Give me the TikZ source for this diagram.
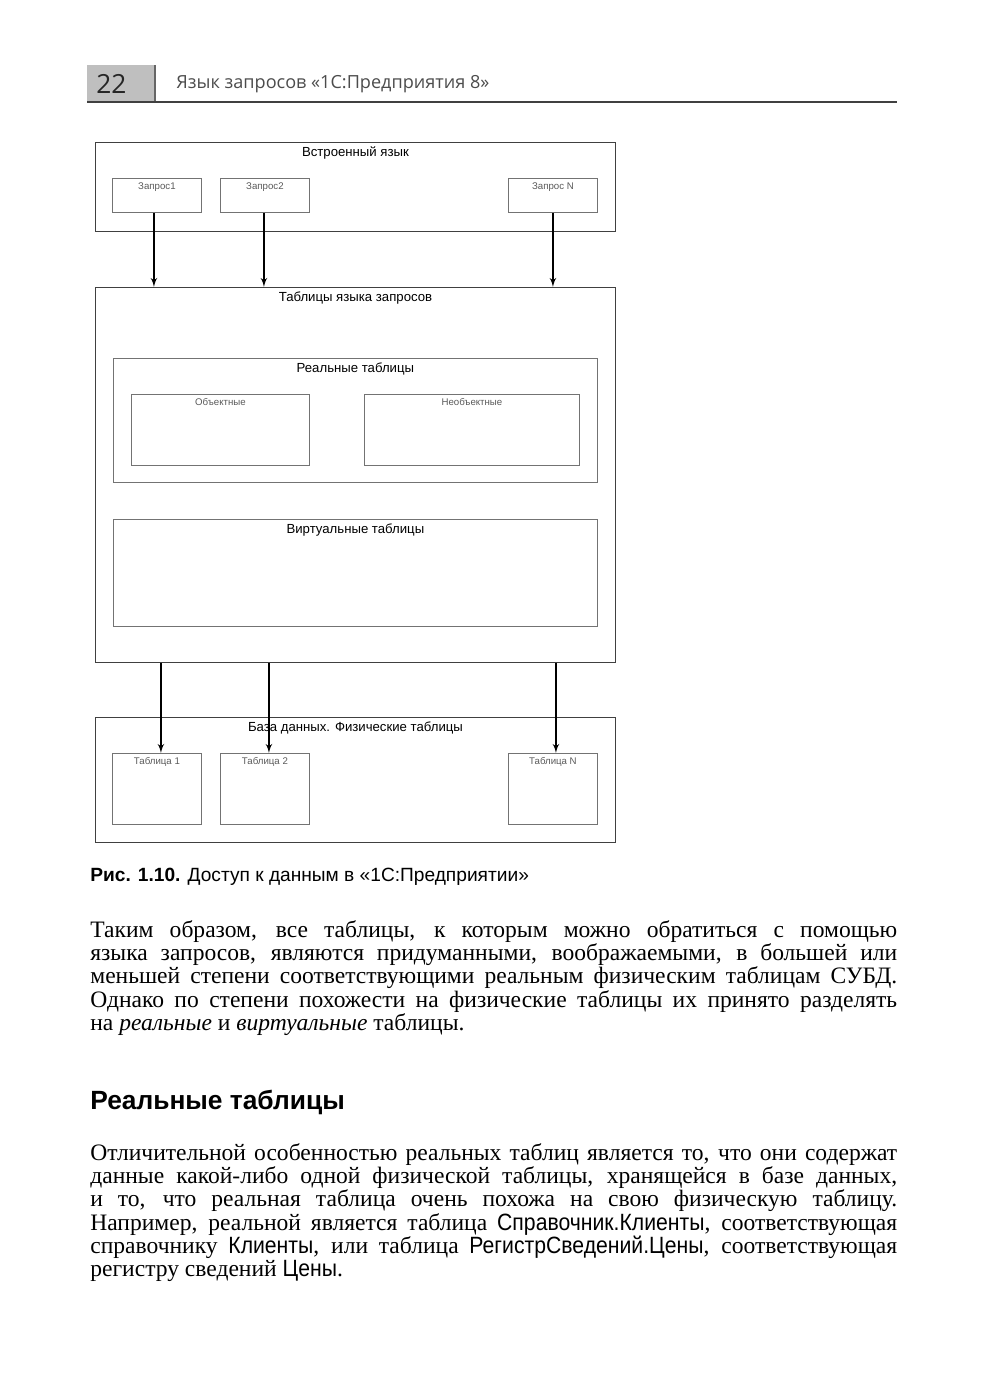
\documentclass[tikz,border=0pt]{standalone}
\usepackage{fontspec}
\setmainfont{Liberation Serif}
\setsansfont{Liberation Sans}
\newfontfamily\hdfont{Open Sans}
\newfontfamily\narsf[FakeStretch=0.9]{Liberation Sans}
\usetikzlibrary{arrows}
\tikzstyle{frame}=[draw=black!75, line width=0.6pt, anchor=north west, inner sep=0pt]
\tikzstyle{sub}=[draw=black!55, line width=0.5pt, anchor=north west, inner sep=0pt]
\tikzstyle{ttl}=[anchor=north, inner sep=2.5pt, font=\sffamily\fontsize{7.5}{8}\selectfont]
\tikzstyle{sml}=[anchor=north, inner sep=2.5pt, text=black!65, font=\sffamily\fontsize{5.5}{6}\selectfont]
\tikzstyle{txt}=[anchor=base west, inner sep=0pt, font=\fontsize{13.4}{13.2}\selectfont]
\newcommand\jline[1]{\makebox[16.14cm][s]{#1}}
\newcommand\cfg[1]{{\narsf #1}}

\begin{document}
\begin{tikzpicture}[x=0.02cm,y=-0.02cm,>=latex']
    \useasboundingbox (0,0) rectangle (1000,1379);
    % running head
    \node [anchor=north west, fill=black!25, minimum width=1.34cm, minimum height=0.74cm] (pg) at (87,65) {};
    \draw [black!60, line width=1.2pt] (pg.north east) -- (pg.south east);
    \node [anchor=base west, inner sep=0pt, text=black!85, font=\hdfont\fontsize{15}{15}\selectfont] (num) at (96,93) {22};
    \node [anchor=base west, inner sep=0pt, text=black!70, font=\hdfont\fontsize{10.3}{11}\selectfont] (head) at (176,88) {Язык запросов «1С:Предприятия 8»};
    \draw [black!75, line width=0.6pt] (87,102) -- (897,102);
    % diagram
    \node [frame, minimum width=10.4cm, minimum height=1.78cm, label={[ttl]north:Встроенный язык}] (lang) at (95,142) {};
    \node [sub, minimum width=1.78cm, minimum height=0.68cm, label={[sml]north:Запрос1}] (q1) at (112,178) {};
    \node [sub, minimum width=1.78cm, minimum height=0.68cm, label={[sml]north:Запрос2}] (q2) at (220,178) {};
    \node [sub, minimum width=1.78cm, minimum height=0.68cm, label={[sml]north:Запрос N}] (qn) at (508,178) {};
    \node [frame, minimum width=10.4cm, minimum height=7.5cm, label={[ttl]north:Таблицы языка запросов}] (tq) at (95,287) {};
    \node [sub, minimum width=9.68cm, minimum height=2.48cm, label={[ttl]north:Реальные таблицы}] (rt) at (113,358) {};
    \node [sub, minimum width=3.56cm, minimum height=1.42cm, label={[sml]north:Объектные}] (ob) at (131,394) {};
    \node [sub, minimum width=4.3cm, minimum height=1.42cm, label={[sml]north:Необъектные}] (nob) at (364,394) {};
    \node [sub, minimum width=9.68cm, minimum height=2.14cm, label={[ttl]north:Виртуальные таблицы}] (vt) at (113,519) {};
    \node [frame, minimum width=10.4cm, minimum height=2.5cm, label={[ttl]north:База данных. Физические таблицы}] (db) at (95,717) {};
    \node [sub, minimum width=1.78cm, minimum height=1.42cm, label={[sml]north:Таблица 1}] (t1) at (112,753) {};
    \node [sub, minimum width=1.78cm, minimum height=1.42cm, label={[sml]north:Таблица 2}] (t2) at (220,753) {};
    \node [sub, minimum width=1.78cm, minimum height=1.42cm, label={[sml]north:Таблица N}] (tn) at (508,753) {};
    \foreach \n/\s in {q1/-3,q2/-1,qn/0}
        \draw [->, line width=0.8pt] ([xshift=\s*0.02cm]\n.south) -- ([xshift=\s*0.02cm]\n.south |- tq.north);
    \foreach \n/\s in {t1/4,t2/4,tn/3}
        \draw [->, line width=0.8pt] ([xshift=\s*0.02cm]\n.north |- tq.south) -- ([xshift=\s*0.02cm]\n.north);
    % caption
    \node [anchor=base west, inner sep=0pt, font=\sffamily\fontsize{10.9}{11}\selectfont] (cap) at (90,881) {\textbf{Рис. 1.10.} Доступ к данным в «1С:Предприятии»};
    % text
    \node [txt] (p1a) at (90,937) {\jline{Таким образом, все таблицы, к которым можно обратиться с помощью}};
    \node [txt] (p1b) at (90,960.3) {\jline{языка запросов, являются придуманными, воображаемыми, в большей или}};
    \node [txt] (p1c) at (90,983.6) {\jline{меньшей степени соответствующими реальным физическим таблицам СУБД.}};
    \node [txt] (p1d) at (90,1007) {\jline{Однако по степени похожести на физические таблицы их принято разделять}};
    \node [txt] (p1e) at (90,1030.3) {на \textit{реальные} и \textit{виртуальные} таблицы.};
    \node [anchor=base west, inner sep=0pt, font=\sffamily\bfseries\fontsize{15}{15}\selectfont] (sec) at (90,1109) {Реальные таблицы};
    \node [txt] (p2a) at (90,1160) {\jline{Отличительной особенностью реальных таблиц является то, что они содержат}};
    \node [txt] (p2b) at (90,1183.3) {\jline{данные какой-либо одной физической таблицы, хранящейся в базе данных,}};
    \node [txt] (p2c) at (90,1206.6) {\jline{и то, что реальная таблица очень похожа на свою физическую таблицу.}};
    \node [txt] (p2d) at (90,1230) {\jline{Например, реальной является таблица \cfg{Справочник.Клиенты}, соответствующая}};
    \node [txt] (p2e) at (90,1253.3) {\jline{справочнику \cfg{Клиенты}, или таблица \cfg{РегистрСведений.Цены}, соответствующая}};
    \node [txt] (p2f) at (90,1276.6) {регистру сведений \cfg{Цены}.};
\end{tikzpicture}
\end{document}
